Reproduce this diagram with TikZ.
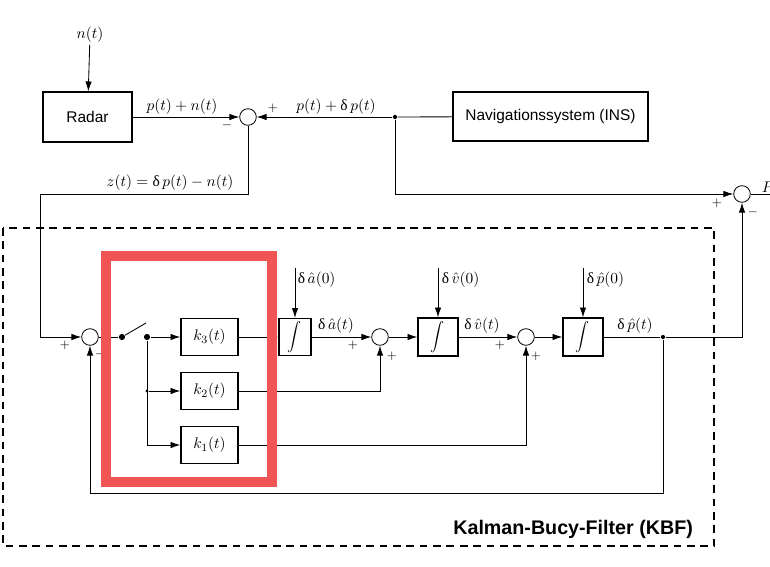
\documentclass[tikz,border=0pt]{standalone}
\usepackage{fontspec}
\setmainfont{Liberation Sans}
\newfontfamily\grkfont{Liberation Serif}
\newcommand{\udel}{\mbox{\grkfont δ}}
\usepackage{tikz}
\usetikzlibrary{arrows.meta}
\definecolor{hlred}{RGB}{240,84,84}

\begin{document}
\begin{tikzpicture}[
    x=0.025cm, y=-0.025cm,
    >={Latex[length=7pt, width=4.6pt]},
    line width=0.6pt,
    blk/.style={draw, line width=0.9pt, inner sep=0pt, font=\fontsize{11}{13}\selectfont},
    gain/.style={blk, minimum width=1.425cm, minimum height=0.925cm},
    integ/.style={blk, minimum width=1cm, minimum height=0.95cm},
    sumc/.style={circle, draw, line width=0.6pt, minimum size=0.415cm, inner sep=0pt},
    lbl/.style={font=\fontsize{11}{13}\selectfont, inner sep=1pt},
    sgn/.style={font=\fontsize{9}{10}\selectfont, inner sep=0pt},
    dot/.style={circle, fill, inner sep=0pt, minimum size=4.4pt}
]
\useasboundingbox (0,0) rectangle (770,566);

% Nodes :
\node[lbl] (noise) at (90,35) {$n(t)$};
\node[blk, minimum width=2.225cm, minimum height=1.25cm] (radar) at (87.5,117) {Radar};
\node[blk, minimum width=4.875cm, minimum height=1.225cm] (ins) at (550.5,116.5) {Navigationssystem (INS)};
\node[sumc] (s0) at (248,117) {};
\node[dot, minimum size=3pt] (b0) at (395,117) {};
\node[sumc] (sout) at (742,194) {};
\coordinate (c1) at (40,194);
\coordinate (pout) at (770,194);

\node[sumc] (s1) at (90,337) {};
\node[dot] (sw1) at (122,337) {};
\node[dot] (sw2) at (147,337) {};
\coordinate (lever) at (146,323);
\node[dot, minimum size=2.2pt] (b2) at (147,391) {};

\node[gain] (k3) at (209.5,337) {$k_3(t)$};
\node[gain] (k2) at (209.5,391) {$k_2(t)$};
\node[gain] (k1) at (209.5,445) {$k_1(t)$};

\node[blk, minimum width=0.8cm, minimum height=0.925cm] (i1) at (295,337) {$\displaystyle\int$};
\node[sumc] (s2) at (380,337) {};
\node[integ] (i2) at (438,337) {$\displaystyle\int$};
\node[sumc] (s3) at (526,337) {};
\node[integ] (i3) at (583,337) {$\displaystyle\int$};
\node[dot, minimum size=3pt] (b3) at (663,337) {};
\coordinate (c2) at (90,493);

\coordinate (ia0) at (295,268);
\coordinate (iv0) at (438,268);
\coordinate (ip0) at (583,268);

% Labels :
\node[lbl] (lpn) at (182,107) {$p(t)+n(t)$};
\node[lbl] (lpd) at (336,107) {$p(t)+\udel\,p(t)$};
\node[lbl] (lz) at (170,183) {$z(t)=\udel\,p(t)-n(t)$};
\node[lbl, anchor=west] (la0) at (296,280) {$\udel\,\hat a(0)$};
\node[lbl, anchor=west] (lv0) at (440,280) {$\udel\,\hat v(0)$};
\node[lbl, anchor=west] (lp0) at (585,280) {$\udel\,\hat p(0)$};
\node[lbl] (la) at (336,326) {$\udel\,\hat a(t)$};
\node[lbl] (lv) at (482,326) {$\udel\,\hat v(t)$};
\node[lbl] (lp) at (635,326) {$\udel\,\hat p(t)$};
\node[lbl, anchor=west] (lout) at (760,187) {$P$};

\node[sgn] (g1) at (273,108) {$+$};
\node[sgn] (g2) at (227,125) {$-$};
\node[sgn] (g3) at (717,203) {$+$};
\node[sgn] (g4) at (753,212) {$-$};
\node[sgn] (g5) at (65,345) {$+$};
\node[sgn] (g6) at (100,354) {$-$};
\node[sgn] (g7) at (353,345) {$+$};
\node[sgn] (g8) at (392,356) {$+$};
\node[sgn] (g9) at (500,345) {$+$};
\node[sgn] (g10) at (536,356) {$+$};

% Edges :
\draw[->] (noise) -- (radar);
\draw[->] (radar) -- (s0);
\draw (ins) -- (b0);
\draw[->] (b0) -- (s0);
\draw[->] (b0) |- (sout);
\draw (sout) -- (pout);
\draw[->] (s0) |- (c1) |- (s1);

\draw (s1) -- (sw1);
\draw (sw1) -- (lever);
\draw[->] (sw2) -- (k3);
\draw[->] (sw2) |- (k1);
\draw[->] (b2) -- (k2);

\draw[->] (k3) -- (i1);
\draw[->] (ia0) -- (i1);
\draw[->] (i1) -- (s2);
\draw[->] (k2) -| (s2);
\draw[->] (s2) -- (i2);
\draw[->] (iv0) -- (i2);
\draw[->] (i2) -- (s3);
\draw[->] (k1) -| (s3);
\draw[->] (s3) -- (i3);
\draw[->] (ip0) -- (i3);
\draw (i3) -- (b3);
\draw[->] (b3) -| (sout);
\draw[->] (b3) |- (c2) -- (s1);

% Filter frame and highlight :
\draw[line width=1.4pt, dash pattern=on 5.5pt off 4pt] (3,228) rectangle (714,546);
\node[font=\bfseries\fontsize{14}{16}\selectfont, anchor=east] (kbf) at (698,529) {Kalman-Bucy-Filter (KBF)};
\draw[hlred, line width=7.8pt] (106,256) rectangle (272,482);

\end{tikzpicture}
\end{document}
